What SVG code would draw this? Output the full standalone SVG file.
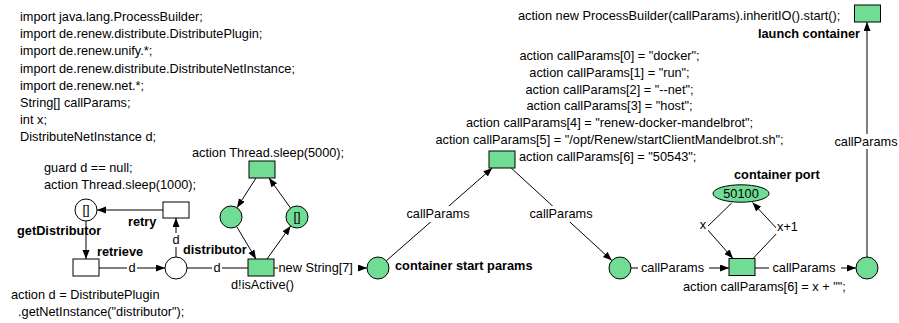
<svg xmlns="http://www.w3.org/2000/svg" width="899" height="323" viewBox="0 0 899 323">
<style>
text{font-family:"Liberation Sans",Arial,sans-serif;font-size:12.75px;fill:#000}
.b{font-weight:bold}
.m{text-anchor:middle}
.e{text-anchor:end}
.pl{fill:#70DC94;stroke:#000;stroke-width:1}
.pw{fill:#fff;stroke:#000;stroke-width:1}
.arc{fill:none;stroke:#000;stroke-width:1}
.ar{marker-end:url(#ah)}
.bg{fill:#fff}
</style>
<defs>
<marker id="ah" markerUnits="userSpaceOnUse" markerWidth="10" markerHeight="8" refX="9" refY="3.5" orient="auto">
<path d="M0,0 L9,3.5 L0,7 Z" fill="#000"/>
</marker>
</defs>
<rect width="899" height="323" fill="#fff"/>
<g id="declarations">
<text x="20" y="21">import java.lang.ProcessBuilder;</text>
<text x="20" y="38.2">import de.renew.distribute.DistributePlugin;</text>
<text x="20" y="55.3">import de.renew.unify.*;</text>
<text x="20" y="72.5">import de.renew.distribute.DistributeNetInstance;</text>
<text x="20" y="89.6">import de.renew.net.*;</text>
<text x="20" y="106.8">String[] callParams;</text>
<text x="20" y="123.9">int x;</text>
<text x="20" y="141">DistributeNetInstance d;</text>
</g>
<g id="connectors">
<path class="arc ar" d="M163,210 L97,210"/>
<path class="arc ar" d="M86,221 L86,259"/>
<path class="arc ar" d="M99,268 L165,268"/>
<rect class="bg" x="127" y="261" width="10" height="14"/>
<text class="m" x="132" y="272">d</text>
<path class="arc ar" d="M176,257 L176,218"/>
<rect class="bg" x="171" y="233" width="10" height="14"/>
<text class="m" x="176" y="244">d</text>
<path class="arc" d="M187,268 L248,268"/>
<rect class="bg" x="212" y="261" width="10" height="14"/>
<text class="m" x="217" y="272">d</text>
<path class="arc ar" d="M274,268 L367,268"/>
<rect class="bg" x="278" y="261" width="80" height="14"/>
<text x="278.5" y="272">new String[7]</text>
<path class="arc ar" d="M256,178 L237,207.7"/>
<path class="arc ar" d="M236.6,226.4 L256,259"/>
<path class="arc ar" d="M267,259 L290.6,226"/>
<path class="arc ar" d="M290.6,208.1 L269,178"/>
<path class="arc ar" d="M386.3,260.8 L492.3,168"/>
<rect class="bg" x="403" y="206" width="71" height="16"/>
<text class="m" x="438" y="218">callParams</text>
<path class="arc ar" d="M511.2,168 L611.9,260.6"/>
<rect class="bg" x="526" y="206" width="71" height="16"/>
<text class="m" x="561" y="218">callParams</text>
<path class="arc ar" d="M631,268 L729,268"/>
<rect class="bg" x="638" y="261" width="71" height="14"/>
<text class="m" x="672.5" y="272">callParams</text>
<path class="arc ar" d="M755,268 L856,268"/>
<rect class="bg" x="769" y="261" width="72" height="14"/>
<text class="m" x="804" y="272">callParams</text>
<path class="arc ar" d="M731.7,203 L706,228 L733,258.5"/>
<rect class="bg" x="699" y="218" width="9" height="14"/>
<text class="m" x="703" y="229">x</text>
<path class="arc ar" d="M753,258.5 L779,231 L752.5,202.5"/>
<rect class="bg" x="776" y="220" width="23" height="14"/>
<text x="777" y="231">x+1</text>
<path class="arc ar" d="M867,257 L867,22"/>
<rect class="bg" x="832" y="134" width="67" height="15"/>
<text class="m" x="866" y="146">callParams</text>
</g>
<g id="getDistributor">
<circle class="pw" cx="86" cy="210" r="11"/>
<text class="m" x="86" y="214">[]</text>
<text class="b" x="17" y="235">getDistributor</text>
</g>
<g id="retry">
<rect class="pw" x="163" y="202" width="26" height="16"/>
<text class="b" x="128" y="226">retry</text>
<text x="44" y="172">guard d == null;</text>
<text x="44" y="189">action Thread.sleep(1000);</text>
</g>
<g id="retrieve">
<rect class="pw" x="73" y="259" width="26" height="17"/>
<text class="b" x="97" y="256">retrieve</text>
<text x="11" y="299">action d = DistributePlugin</text>
<text x="18" y="316">.getNetInstance("distributor");</text>
</g>
<g id="distributor">
<circle class="pw" cx="176" cy="268" r="11"/>
<text class="b" x="183" y="254">distributor</text>
</g>
<g id="isActive">
<rect class="pl" x="248" y="259" width="26" height="17"/>
<text x="231" y="289">d!isActive()</text>
</g>
<g id="sleep">
<rect class="pl" x="249" y="161" width="26" height="17"/>
<text x="192" y="157">action Thread.sleep(5000);</text>
</g>
<g id="loopLeft">
<circle class="pl" cx="231" cy="217" r="11"/>
</g>
<g id="loopRight">
<circle class="pl" cx="297" cy="217" r="11"/>
<text class="m" x="297" y="221">[]</text>
</g>
<g id="containerStartParams">
<circle class="pl" cx="378" cy="268" r="11"/>
<text class="b" x="395" y="270">container start params</text>
</g>
<g id="setParams">
<rect class="pl" x="489" y="151" width="26" height="17"/>
<text class="m" x="609.5" y="60">action callParams[0] = "docker";</text>
<text class="m" x="609.5" y="77">action callParams[1] = "run";</text>
<text class="m" x="609.5" y="94">action callParams[2] = "--net";</text>
<text class="m" x="609.5" y="110">action callParams[3] = "host";</text>
<text class="m" x="609.5" y="127">action callParams[4] = "renew-docker-mandelbrot";</text>
<text class="m" x="609.5" y="144">action callParams[5] = "/opt/Renew/startClientMandelbrot.sh";</text>
<text x="519" y="161">action callParams[6] = "50543";</text>
</g>
<g id="paramsPlace">
<circle class="pl" cx="620" cy="268" r="11"/>
</g>
<g id="containerPort">
<ellipse class="pl" cx="741" cy="193.5" rx="28" ry="8.7"/>
<text class="m" x="741" y="198">50100</text>
<text class="b" x="734" y="179">container port</text>
</g>
<g id="setPort">
<rect class="pl" x="729" y="258.5" width="26" height="17"/>
<text x="683" y="291">action callParams[6] = x + "";</text>
</g>
<g id="readyPlace">
<circle class="pl" cx="867" cy="268" r="11"/>
</g>
<g id="launchContainer">
<rect class="pl" x="854.5" y="5" width="26" height="17"/>
<text x="518" y="20">action new ProcessBuilder(callParams).inheritIO().start();</text>
<text class="b e" x="860" y="38">launch container</text>
</g>
</svg>
